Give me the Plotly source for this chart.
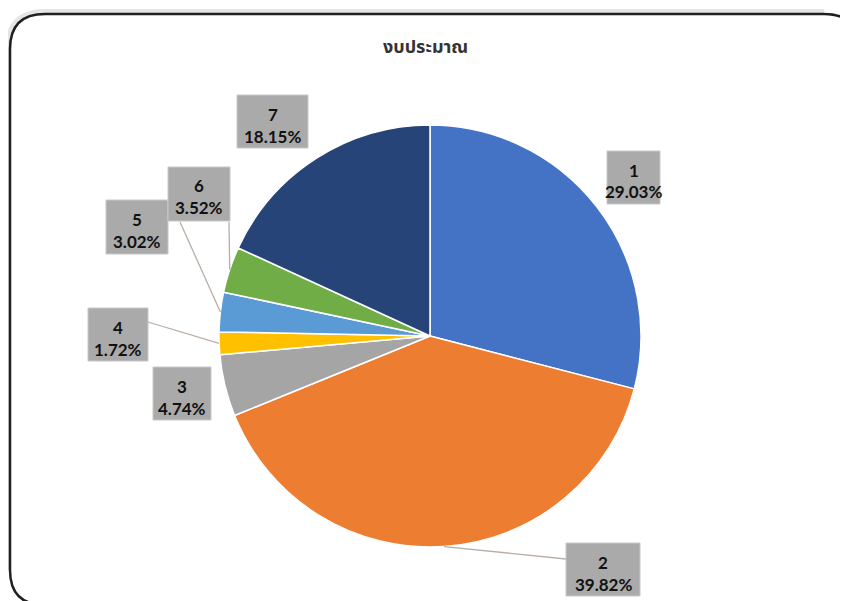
import math
import plotly.graph_objects as go

# ---- data ----
categories = ["1", "2", "3", "4", "5", "6", "7"]
values = [29.03, 39.82, 4.74, 1.72, 3.02, 3.52, 18.15]
colors = ["#4472C4", "#ED7D31", "#A5A5A5", "#FFC000", "#5B9BD5", "#70AD47", "#264478"]
title_text = "งบประมาณ"

# ---- layout geometry (pixels of the screenshot) ----
W, H = 848, 601
OFF = 8  # page body margin
CX, CY, R = 430, 336, 211

def px(x):
    return (x - OFF) / W

def py(y):
    return 1 - (y - OFF) / H

# label boxes: left, top, right, bottom (pixels)
label_box = {
    "1": (607, 151, 660, 204),
    "2": (566, 543, 640, 596),
    "3": (153, 367, 211, 420),
    "4": (88, 308, 148, 361),
    "5": (106, 200, 168, 254),
    "6": (168, 167, 230, 221),
    "7": (237, 95, 308, 148),
}
# where leader lines attach to the label boxes (pixels)
leader_end = {
    "2": (566, 559),
    "4": (148, 322),
    "5": (180, 222),
    "6": (229, 222),
}

fig = go.Figure()
fig.add_trace(go.Pie(
    labels=categories,
    values=values,
    sort=False,
    direction="clockwise",
    rotation=0,
    marker=dict(colors=colors, line=dict(color="white", width=1.5)),
    textinfo="none",
    hoverinfo="label+percent",
    showlegend=False,
    domain=dict(x=[px(CX - R), px(CX + R)], y=[py(CY + R), py(CY - R)]),
))

shapes = []
# frame (rounded rectangle)
x0, y0, x1, y1, rr = 10, 14, 859, 605, 35
def P(x, y):
    return f"{px(x)},{py(y)}"
path = (f"M {P(x0 + rr, y0)} L {P(x1 - rr, y0)} Q {P(x1, y0)} {P(x1, y0 + rr)} "
        f"L {P(x1, y1 - rr)} Q {P(x1, y1)} {P(x1 - rr, y1)} "
        f"L {P(x0 + rr, y1)} Q {P(x0, y1)} {P(x0, y1 - rr)} "
        f"L {P(x0, y0 + rr)} Q {P(x0, y0)} {P(x0 + rr, y0)} Z")
pathS = (f"M {P(x0 - 3, y1 - rr)} L {P(x0 - 3, y0 + rr)} Q {P(x0 - 3, y0 - 3)} {P(x0 + rr, y0 - 3)} "
         f"L {P(x1 - rr, y0 - 3)}")
shapes.append(dict(type="path", path=pathS, xref="paper", yref="paper",
                   line=dict(color="rgba(0,0,0,0.10)", width=4)))
shapes.append(dict(type="path", path=path, xref="paper", yref="paper",
                   line=dict(color="#231f20", width=2.5)))

# leader lines from slice midpoints on the rim, label boxes and texts
total = sum(values)
cum = 0.0
annotations = []
lab_font = dict(family="Lato, Open Sans, sans-serif", size=17, color="#111111", weight="bold")
for cat, v in zip(categories, values):
    mid = (cum + v / 2) / total * 2 * math.pi
    cum += v
    ex = CX + R * math.sin(mid)
    ey = CY - R * math.cos(mid)
    if cat in leader_end:
        lx, ly = leader_end[cat]
        shapes.append(dict(type="line", xref="paper", yref="paper",
                           x0=px(ex), y0=py(ey), x1=px(lx), y1=py(ly),
                           line=dict(color="#b8aea6", width=1.3)))
    bl, bt, br, bb = label_box[cat]
    shapes.append(dict(type="rect", xref="paper", yref="paper",
                       x0=px(bl), x1=px(br), y0=py(bb), y1=py(bt),
                       fillcolor="#aaaaaa", line=dict(color="#c8c8c8", width=1)))
    pct = v / total * 100
    xc = (bl + br) / 2
    annotations.append(dict(x=px(xc), y=py(bt + 19), xref="paper", yref="paper",
                            xanchor="center", yanchor="middle", showarrow=False,
                            text=cat, font=lab_font))
    annotations.append(dict(x=px(xc), y=py(bt + 41), xref="paper", yref="paper",
                            xanchor="center", yanchor="middle", showarrow=False,
                            text=f"{pct:.2f}%", font=lab_font))

annotations.append(dict(
    x=px(425), y=py(48), xref="paper", yref="paper", showarrow=False,
    xanchor="center", yanchor="middle",
    text=title_text,
    font=dict(family="Noto Sans Thai, Noto Sans, DejaVu Sans, sans-serif", size=18,
              color="#333333", weight="bold"),
))

fig.update_layout(
    width=W, height=H,
    margin=dict(l=0, r=0, t=0, b=0),
    paper_bgcolor="white",
    plot_bgcolor="white",
    shapes=shapes,
    annotations=annotations,
)
fig.write_html("out.html")
